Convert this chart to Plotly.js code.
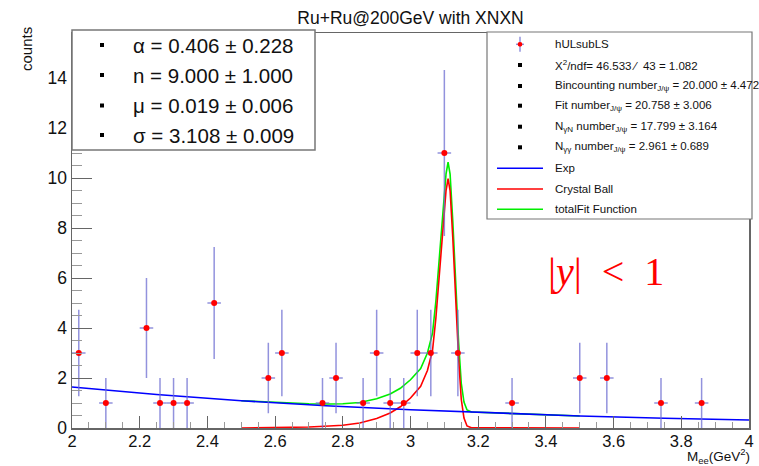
<!DOCTYPE html>
<html>
<head>
<meta charset="utf-8">
<script src="https://cdn.plot.ly/plotly-3.0.1.min.js"></script>
<style>html,body{margin:0;padding:0;background:#fff;}#chart{width:759px;height:466px;}</style>
</head>
<body>
<div id="chart"></div>
<script>
// ---- data ----
const binCenters = [2.02, 2.10, 2.22, 2.26, 2.30, 2.34, 2.42, 2.58, 2.62, 2.74, 2.78, 2.86, 2.90, 2.94, 2.98, 3.02, 3.06, 3.10, 3.14, 3.30, 3.50, 3.58, 3.74, 3.86];
const binCounts  = [3, 1, 4, 1, 1, 1, 5, 2, 3, 1, 2, 1, 3, 1, 1, 3, 3, 11, 3, 1, 2, 2, 1, 1];
const binErrors  = [1.73, 1, 2, 1, 1, 1, 2.24, 1.41, 1.73, 1, 1.41, 1, 1.73, 1, 1, 1.73, 1.73, 3.32, 1.73, 1, 1.41, 1.41, 1, 1];
const binHalfWidth = 0.02;

const expX = [2.0, 2.25, 2.5, 2.75, 3.0, 3.25, 3.5, 3.75, 4.0];
const expY = [1.64, 1.34, 1.09, 0.89, 0.73, 0.59, 0.48, 0.39, 0.32];

const cbX = [2.50, 2.60, 2.70, 2.76, 2.80, 2.85, 2.90, 2.94, 2.97, 3.00, 3.03, 3.05, 3.065, 3.075, 3.085, 3.095, 3.105, 3.111, 3.117, 3.125, 3.135, 3.142, 3.150, 3.158, 3.167, 3.18, 3.50];
const cbY = [0.00, 0.01, 0.04, 0.08, 0.11, 0.20, 0.38, 0.60, 0.85, 1.20, 1.67, 2.30, 3.10, 4.40, 6.10, 8.00, 9.50, 9.97, 9.50, 7.60, 4.60, 2.80, 1.15, 0.40, 0.08, 0.01, 0.00];

const totX = [2.50, 2.60, 2.70, 2.76, 2.80, 2.85, 2.90, 2.94, 2.97, 3.00, 3.03, 3.05, 3.065, 3.075, 3.085, 3.095, 3.105, 3.111, 3.117, 3.125, 3.135, 3.142, 3.150, 3.158, 3.167, 3.18, 3.50];
const totY = [1.09, 1.02, 0.97, 0.96, 0.97, 1.02, 1.17, 1.36, 1.59, 1.93, 2.38, 3.00, 3.79, 5.08, 6.78, 8.67, 10.17, 10.63, 10.16, 8.26, 5.25, 3.45, 1.79, 1.04, 0.72, 0.64, 0.48];

const xTickVals = [2, 2.2, 2.4, 2.6, 2.8, 3, 3.2, 3.4, 3.6, 3.8, 4];
const yTickVals = [0, 2, 4, 6, 8, 10, 12, 14];

const titleText = "Ru+Ru@200GeV with XNXN";
const xTitle = "M<sub>ee</sub>(GeV<sup>2</sup>)";
const yTitle = "counts";
const statLines = ["α = 0.406 ± 0.228", "n = 9.000 ± 1.000", "μ = 0.019 ± 0.006", "σ = 3.108 ± 0.009"];
const legendTexts = [
  "hULsubLS",
  "X<sup>2</sup>/ndf= 46.533 ∕  43 = 1.082",
  "Bincounting number<sub>J/ψ</sub> = 20.000 ± 4.472",
  "Fit number<sub>J/ψ</sub> = 20.758 ± 3.006",
  "N<sub>γN</sub> number<sub>J/ψ</sub> = 17.799 ± 3.164",
  "N<sub>γγ</sub> number<sub>J/ψ</sub> = 2.961 ± 0.689",
  "Exp",
  "Crystal Ball",
  "totalFit Function"
];
const legendKinds = ["point", "box", "box", "box", "box", "box", "blue", "red", "green"];
const rapidityText = "|<i>y</i>| &nbsp;&lt;&nbsp; 1";

// ---- layout geometry ----
const W = 759, H = 466;
const M = {l: 72, r: 10, t: 33, b: 38};
const PW = W - M.l - M.r, PH = H - M.t - M.b;
const px = v => (v - M.l) / PW;
const py = v => (H - M.b - v) / PH;
const FONT = "Liberation Sans, Arial, Helvetica, sans-serif";

const traces = [
  {x: totX, y: totY, mode: "lines", line: {color: "#00ee00", width: 1.6}, showlegend: false, hoverinfo: "skip"},
  {x: cbX, y: cbY, mode: "lines", line: {color: "#ff0000", width: 1.6}, showlegend: false, hoverinfo: "skip"},
  {x: expX, y: expY, mode: "lines", line: {color: "#0000ff", width: 1.6}, showlegend: false, hoverinfo: "skip"},
  {x: binCenters, y: binCounts, mode: "markers", type: "scatter",
   marker: {color: "#ff0000", size: 6},
   error_y: {type: "data", array: binErrors, visible: true, width: 0, color: "rgba(110,110,210,0.75)", thickness: 1.5},
   error_x: {type: "constant", value: binHalfWidth, visible: true, width: 0, color: "rgba(110,110,210,0.75)", thickness: 1.5},
   showlegend: false, hoverinfo: "skip"}
];

const shapes = [];
const annotations = [];

// stat box (top-left)
shapes.push({type: "rect", xref: "paper", yref: "paper", x0: px(72), x1: px(315), y0: py(150), y1: py(30),
  fillcolor: "#ffffff", line: {color: "#777", width: 1.5}, layer: "above"});
const statRows = [45, 75, 105.5, 135];
statLines.forEach((t, i) => {
  const r = statRows[i];
  shapes.push({type: "rect", xref: "paper", yref: "paper", x0: px(100), x1: px(104), y0: py(r + 2), y1: py(r - 2),
    fillcolor: "#000", line: {width: 0}, layer: "above"});
  annotations.push({xref: "paper", yref: "paper", x: px(131), y: py(r), xanchor: "left", yanchor: "middle",
    text: t, showarrow: false, font: {family: FONT, size: 20.5, color: "#111"}});
});

// legend box (top-right)
shapes.push({type: "rect", xref: "paper", yref: "paper", x0: px(487), x1: px(752), y0: py(219), y1: py(32),
  fillcolor: "#ffffff", line: {color: "#777", width: 1.2}, layer: "above"});
const legRows = [44.3, 65, 86, 105.7, 126.7, 147.3, 168.3, 189, 209.3];
const lineColors = {blue: "#0000ff", red: "#ff0000", green: "#00ee00"};
legendTexts.forEach((t, i) => {
  const r = legRows[i];
  const k = legendKinds[i];
  if (k === "point") {
    shapes.push({type: "line", xref: "paper", yref: "paper", x0: px(520), x1: px(520), y0: py(r + 7.5), y1: py(r - 7.5),
      line: {color: "rgba(110,110,210,0.75)", width: 1.5}, layer: "above"});
    shapes.push({type: "line", xref: "paper", yref: "paper", x0: px(516), x1: px(524), y0: py(r), y1: py(r),
      line: {color: "rgba(110,110,210,0.75)", width: 1.5}, layer: "above"});
    shapes.push({type: "circle", xref: "paper", yref: "paper", x0: px(517.6), x1: px(522.4), y0: py(r + 2.4), y1: py(r - 2.4),
      fillcolor: "#ff0000", line: {width: 0}, layer: "above"});
  } else if (k === "box") {
    shapes.push({type: "rect", xref: "paper", yref: "paper", x0: px(518), x1: px(522), y0: py(r + 2), y1: py(r - 2),
      fillcolor: "#000", line: {width: 0}, layer: "above"});
  } else {
    shapes.push({type: "line", xref: "paper", yref: "paper", x0: px(497), x1: px(543), y0: py(r), y1: py(r),
      line: {color: lineColors[k], width: 1.6}, layer: "above"});
  }
  annotations.push({xref: "paper", yref: "paper", x: px(553), y: py(r), xanchor: "left", yanchor: "middle",
    text: t, showarrow: false, font: {family: FONT, size: 11.5, color: "#111"}});
});

// axis titles and extra label
annotations.push({xref: "paper", yref: "paper", x: px(751), y: py(467), xanchor: "right", yanchor: "bottom",
  text: xTitle, showarrow: false, borderpad: 0, font: {family: FONT, size: 13.5, color: "#111"}});
annotations.push({xref: "paper", yref: "paper", x: px(26), y: py(49), xanchor: "center", yanchor: "middle",
  text: yTitle, textangle: -90, showarrow: false, font: {family: FONT, size: 15, color: "#111"}});
annotations.push({xref: "paper", yref: "paper", x: px(546), y: py(271), xanchor: "left", yanchor: "middle",
  text: rapidityText, showarrow: false, font: {family: "Liberation Serif, DejaVu Serif, serif", size: 40, color: "#ff0000"}});

const layout = {
  width: W, height: H,
  margin: M,
  paper_bgcolor: "#ffffff", plot_bgcolor: "#ffffff",
  showlegend: false,
  title: {text: titleText, x: px((M.l + W - M.r) / 2), xref: "paper", xanchor: "center",
          y: 1 - 18 / H, yref: "container", yanchor: "middle",
          font: {family: FONT, size: 17.5, color: "#111"}},
  xaxis: {range: [2, 4], tickmode: "array", tickvals: xTickVals, ticks: "inside", ticklen: 12, tickwidth: 1,
          tickcolor: "#666", showline: true, linecolor: "#666", linewidth: 1.5, mirror: true, ticklabelstandoff: -2,
          showgrid: false, zeroline: false, tickfont: {family: FONT, size: 16.5, color: "#111"},
          minor: {dtick: 0.05, tick0: 2, ticks: "inside", ticklen: 6, tickcolor: "#999", tickwidth: 1, showgrid: false}},
  yaxis: {range: [0, PH / 25], tickmode: "array", tickvals: yTickVals, ticks: "inside", ticklen: 20, tickwidth: 1,
          tickcolor: "#666", showline: true, linecolor: "#666", linewidth: 1.5, mirror: true,
          showgrid: false, zeroline: false, tickfont: {family: FONT, size: 17.5, color: "#111"},
          minor: {dtick: 0.5, tick0: 0, ticks: "inside", ticklen: 10, tickcolor: "#999", tickwidth: 1, showgrid: false}},
  shapes: shapes,
  annotations: annotations
};

Plotly.newPlot("chart", traces, layout, {displayModeBar: false, staticPlot: true});
</script>
</body>
</html>
